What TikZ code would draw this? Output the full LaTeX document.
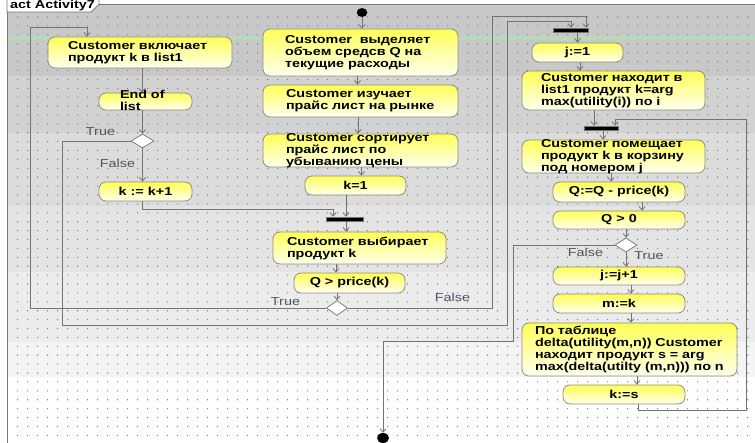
\documentclass[tikz,border=0pt]{standalone}
\usepackage{fontspec}
\setmainfont{Liberation Sans}[FakeStretch=1.25]
\usetikzlibrary{shapes.geometric,arrows.meta}
\definecolor{boxtop}{RGB}{255,255,85}
\definecolor{boxmid}{RGB}{255,255,165}
\definecolor{boxbot}{RGB}{255,255,238}
\definecolor{boxline}{RGB}{140,140,140}
\definecolor{edgec}{RGB}{115,115,115}
\definecolor{lblc}{RGB}{75,85,95}
\definecolor{dotc}{RGB}{125,125,125}
\definecolor{framec}{RGB}{120,120,120}
\definecolor{bandA}{RGB}{200,200,200}
\definecolor{bandB}{RGB}{210,210,210}
\definecolor{bandC}{RGB}{220,220,220}
\definecolor{bandD}{RGB}{228,228,228}
\definecolor{bandE}{RGB}{236,236,236}
\definecolor{bandF}{RGB}{244,244,244}
\definecolor{greenl}{RGB}{185,218,185}
\begin{document}
\begin{tikzpicture}[x=1pt,y=-1pt,
  txt/.style={font=\bfseries\fontsize{11.5}{12}\selectfont, text=black},
  box/.style={txt, draw=boxline, line width=0.8pt, rounded corners=7pt,
    top color=boxtop, bottom color=boxbot, middle color=boxmid,
    inner ysep=0pt, align=left},
  sbox/.style={box, align=center, inner xsep=2pt},
  bar/.style={rectangle, fill=black, draw=edgec, line width=0.5pt, minimum height=4pt, inner sep=0pt},
  dec/.style={diamond, draw=edgec, fill=white, line width=0.7pt, inner sep=0pt},
  term/.style={ellipse, fill=black, inner sep=0pt},
  arr/.style={draw=edgec, line width=0.8pt, -{Straight Barb[length=3.5pt,width=6pt]}},
  lbl/.style={font=\fontsize{11.5}{12}\selectfont, text=lblc, inner sep=0pt},
]
\useasboundingbox (0,0) rectangle (755,443);
\clip (0,0) rectangle (755,443);
% background bands
\fill[white] (0,0) rectangle (755,443);
\fill[bandA] (7,4.5) rectangle (755,76);
\fill[bandB] (7,76) rectangle (755,133);
\fill[bandC] (7,133) rectangle (755,206);
\fill[bandD] (7,206) rectangle (755,272);
\fill[bandE] (7,272) rectangle (755,342);
\fill[bandF] (7,342) rectangle (755,377);
\fill[greenl] (7,36) rectangle (755,40);
% dot grid
\fill[dotc] \foreach \i in {0,...,73} { \foreach \j in {0,...,47} { (17+10*\i,16.5+8.9*\j) rectangle ++(1.1,1.1) } };
% frame and tab
\draw[framec, line width=1pt] (7,443) -- (7,4.5) -- (755,4.5);
\filldraw[fill=white, draw=framec, line width=0.8pt] (7,-1) -- (7,12) -- (91,12) -- (99,4.5) -- (99,-1);
\node[txt, anchor=base west, inner sep=0pt] (T) at (10,9) {act Activity7};

% terminals, bars, decisions
\node[term, minimum width=10.5pt, minimum height=9pt] (S) at (362,12.5) {};
\node[term, minimum width=12pt, minimum height=10pt] (E) at (383,438) {};
\node[bar, minimum width=37pt] (Bar1) at (344.5,219) {};
\node[bar, minimum width=35pt] (Bar2) at (570.5,30) {};
\node[bar, minimum width=34pt] (Bar3) at (601,128) {};
\node[dec, minimum width=21pt, minimum height=15pt] (D1) at (337,308) {};
\node[dec, minimum width=23pt, minimum height=14pt] (D2) at (142.5,141) {};
\node[dec, minimum width=22pt, minimum height=14pt] (D3) at (626,245) {};

% left column
\node[box, minimum width=184pt, minimum height=31pt, inner xsep=20pt, text width=144pt] (B1) at (140,52.5) {Customer~включает\\продукт~k~в~list1};
\node[box, minimum width=93pt, minimum height=17pt, inner xsep=21pt, text width=51pt, text height=6pt, text depth=11pt] (B2) at (145.5,101.5) {End~of\\list};
\node[sbox, minimum width=93pt, minimum height=19pt] (B3) at (145.5,191.5) {k := k+1};

% middle column
\node[box, minimum width=195pt, minimum height=47pt, inner xsep=22pt, text width=151pt] (A1) at (360.5,52.5) {Customer~~выделяет\\объем~средсв~Q~на\\текущие~расходы};
\node[box, minimum width=195pt, minimum height=32pt, inner xsep=23pt, text width=149pt] (A2) at (360.5,101) {Customer~изучает\\прайс~лист~на~рынке};
\node[box, minimum width=195pt, minimum height=33pt, inner xsep=23pt, text width=149pt, text height=7.9pt, text depth=25.1pt] (A3) at (360.5,150.5) {Customer~сортирует\\прайс~лист~по\\убыванию~цены};
\node[sbox, minimum width=101pt, minimum height=19pt] (A4) at (355.5,185.5) {k=1};
\node[box, minimum width=173pt, minimum height=32pt, inner xsep=14pt, text width=145pt] (A5) at (359.5,248) {Customer~выбирает\\продукт~k};
\node[sbox, minimum width=111pt, minimum height=20pt] (A6) at (349.5,283) {Q > price(k)};

% right column
\node[sbox, minimum width=91pt, minimum height=19pt] (C1) at (577.5,52.5) {j:=1};
\node[box, minimum width=183pt, minimum height=39pt, inner xsep=19pt, text width=145pt] (C2) at (613.5,90.5) {Customer~находит~в\\list1~продукт~k=arg\\max(utility(i))~по~i};
\node[box, minimum width=183pt, minimum height=33pt, inner xsep=19pt, text width=145pt, text height=7.9pt, text depth=25.1pt] (C3) at (613.5,156.5) {Customer~помещает\\продукт~k~в~корзину\\под~номером~j};
\node[sbox, minimum width=132pt, minimum height=20pt] (C4) at (619,192) {Q:=Q - price(k)};
\node[sbox, minimum width=132pt, minimum height=18pt] (C5) at (619,220) {Q > 0};
\node[sbox, minimum width=132pt, minimum height=18pt] (C6) at (619,276) {j:=j+1};
\node[sbox, minimum width=132pt, minimum height=19pt] (C7) at (619,303.5) {m:=k};
\node[box, minimum width=215pt, minimum height=53pt, inner xsep=13pt, text width=189pt] (C8) at (629.5,349.5) {По~таблице\\delta(utility(m,n))~Customer\\находит~продукт~s~=~arg\\max(delta(utilty~(m,n)))~по~n};
\node[sbox, minimum width=122pt, minimum height=19pt] (C9) at (624,394.5) {k:=s};

% connectors - middle
\draw[arr] (S) -- (S |- A1.north);
\draw[arr] ([xshift=-3pt]A1.south) -- ([xshift=-3pt]A1.south |- A2.north);
\draw[arr] ([xshift=-2.5pt]A2.south) -- ([xshift=-2.5pt]A2.south |- A3.north);
\draw[arr] ([xshift=1pt]A3.south) -- ([xshift=1pt]A3.south |- A4.north);
\draw[arr] ([xshift=-9.5pt]A4.south) -- ([xshift=-9.5pt]A4.south |- Bar1.north);
\draw[arr] ([xshift=-3.5pt]B3.south) -- ++(0,8) -| ([xshift=-11.5pt]Bar1.north);
\draw[arr] ([xshift=1.5pt]Bar1.south) -- ([xshift=1.5pt]Bar1.south |- A5.north);
\draw[arr] ([xshift=-23.5pt]A5.south) -- ([xshift=-23.5pt]A5.south |- A6.north);
\draw[arr] (D1.north |- A6.south) -- (D1.north);
\draw[arr] (D1.west) -| (30,27) -| ([xshift=-53pt]B1.north);
\draw[arr] (D1.east) -| (492,16) -| ([xshift=15.5pt]Bar2.north);
% connectors - left
\draw[arr] ([xshift=2pt]B1.south) -- ([xshift=2pt]B1.south |- B2.north);
\draw[arr] (D2.north |- B2.south) -- (D2.north);
\draw[arr] (D2.south) -- (D2.south |- B3.north);
\draw[arr] (D2.west) -| (62,325) -| (507,21) -| ([xshift=0.5pt]Bar2.north);
% connectors - right
\draw[arr] (C1.north |- Bar2.south) -- (C1.north);
\draw[arr] ([xshift=2.5pt]C1.south) -- ([xshift=2.5pt]C1.south |- C2.north);
\draw[arr] ([xshift=-19.5pt]C2.south) -- ([xshift=-19.5pt]C2.south |- Bar3.north);
\draw[arr] ([xshift=2pt]Bar3.south) -- ([xshift=2pt]Bar3.south |- C3.north);
\draw[arr] ([xshift=-2.5pt]C3.south) -- ([xshift=-2.5pt]C3.south |- C4.north);
\draw[arr] ([xshift=23pt]C4.south) -- ([xshift=23pt]C4.south |- C5.north);
\draw[arr] (D3.north |- C5.south) -- (D3.north);
\draw[arr] (D3.south) -- (D3.south |- C6.north);
\draw[arr] (D3.west) -| (513,341) -| (E.north);
\draw[arr] ([xshift=12pt]C6.south) -- ([xshift=12pt]C6.south |- C7.north);
\draw[arr] ([xshift=12pt]C7.south) -- ([xshift=12pt]C7.south |- C8.north);
\draw[arr] ([xshift=7.5pt]C8.south) -- ([xshift=7.5pt]C8.south |- C9.north);
\draw[arr] ([xshift=14pt]C9.south) -- ++(0,6) -| (746,119) -| ([xshift=14pt]Bar3.north);

% guard labels
\node[lbl] (L1) at (100.5,132) {True};
\node[lbl] (L2) at (117.5,163) {False};
\node[lbl] (L3) at (285.5,302) {True};
\node[lbl] (L4) at (452.5,297) {False};
\node[lbl] (L5) at (585.5,252) {False};
\node[lbl] (L6) at (649,256) {True};
\end{tikzpicture}
\end{document}
